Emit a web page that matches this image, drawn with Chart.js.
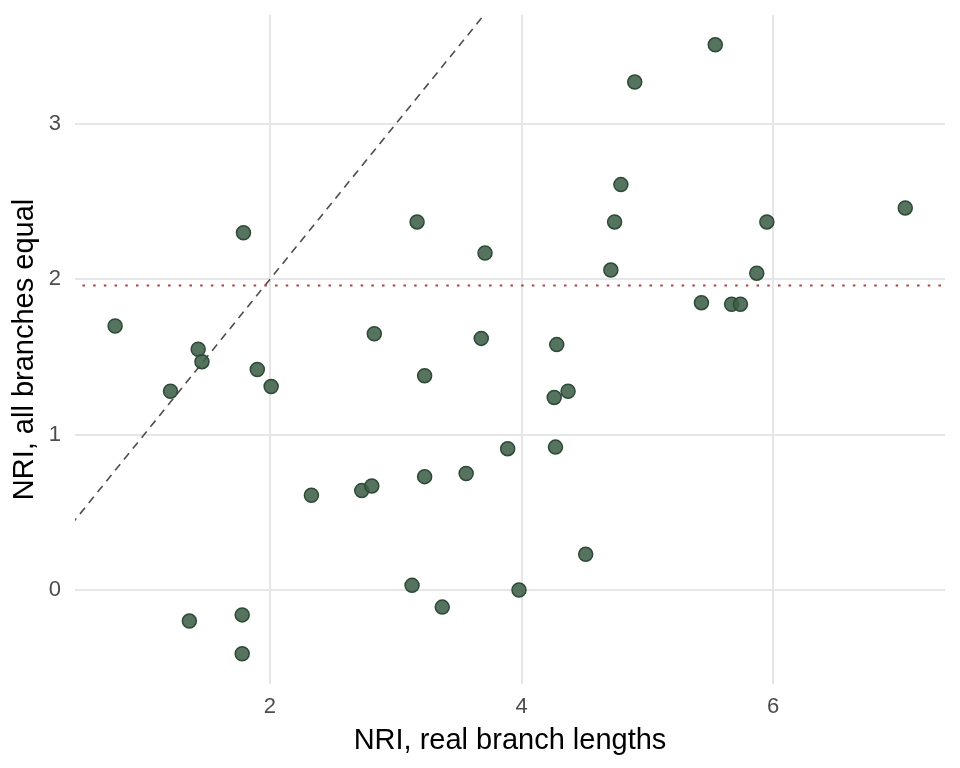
<!DOCTYPE html>
<html>
<head>
<meta charset="utf-8">
<script src="https://cdn.jsdelivr.net/npm/chart.js@4"></script>
<style>
  html, body { margin: 0; padding: 0; background: #fff; }
  #wrap { width: 960px; height: 768px; }
</style>
</head>
<body>
<div id="wrap"><canvas id="myChart" width="960" height="768"></canvas></div>
<script>
// NRI values
var nriReal = [0.77, 1.21, 1.43, 1.46, 1.36, 1.79, 1.78, 1.78, 1.90, 2.01,
               2.33, 2.73, 2.81, 2.83, 3.17, 3.13, 3.23, 3.23, 3.37, 3.56,
               3.68, 3.71, 3.89, 3.98, 4.28, 4.26, 4.37, 4.27, 4.51, 4.71,
               4.74, 4.79, 4.90, 5.43, 5.54, 5.67, 5.74, 5.87, 5.95, 7.05];
var nriEqual = [1.70, 1.28, 1.55, 1.47, -0.20, 2.30, -0.16, -0.41, 1.42, 1.31,
                0.61, 0.64, 0.67, 1.65, 2.37, 0.03, 1.38, 0.73, -0.11, 0.75,
                1.62, 2.17, 0.91, 0.00, 1.58, 1.24, 1.28, 0.92, 0.23, 2.06,
                2.37, 2.61, 3.27, 1.85, 3.51, 1.84, 1.84, 2.04, 2.37, 2.46];

var xTicks = [2, 4, 6];
var yTicks = [0, 1, 2, 3];
var identityLine = [0, 4];   // y = x
var cutoff = 1.96;           // dotted horizontal line

var points = nriReal.map(function (x, i) { return { x: x, y: nriEqual[i] }; });

var ctx = document.getElementById('myChart').getContext('2d');
var chart = new Chart(ctx, {
    type: 'scatter',
    data: {
        datasets: [
            {
                data: points,
                backgroundColor: 'rgba(62,96,72,0.88)',
                borderColor: '#2c4a35',
                borderWidth: 1.5,
                pointRadius: 7,
                order: 0
            },
            {
                data: identityLine.map(function (v) { return { x: v, y: v }; }),
                showLine: true,
                borderColor: '#4d4d4d',
                borderWidth: 1.6,
                borderDash: [8, 6],
                pointRadius: 0,
                order: 2
            },
            {
                data: [{ x: 0, y: cutoff }, { x: 8, y: cutoff }],
                showLine: true,
                borderColor: '#b0403c',
                borderWidth: 2,
                borderDash: [2.5, 8.2],
                pointRadius: 0,
                order: 1
            }
        ]
    },
    options: {
        responsive: false,
        animation: false,
        layout: { padding: { top: 15, right: 15, left: 0, bottom: 0 } },
        plugins: { legend: { display: false }, tooltip: { enabled: false } },
        scales: {
            x: {
                type: 'linear',
                min: 0.451,
                max: 7.366,
                afterBuildTicks: function (s) { s.ticks = xTicks.map(function (v) { return { value: v }; }); },
                afterFit: function (s) { s.height = 84; s.paddingLeft = 0; s.paddingRight = 0; },
                grid: { color: '#e6e6e6', lineWidth: 2, drawTicks: false },
                border: { display: false },
                ticks: { color: '#4d4d4d', font: { family: 'Liberation Sans', size: 22 }, padding: 10 },
                title: {
                    display: true,
                    text: 'NRI, real branch lengths',
                    color: '#000',
                    font: { family: 'Liberation Sans', size: 29 },
                    padding: { top: 0, bottom: 10 }
                }
            },
            y: {
                type: 'linear',
                min: -0.605,
                max: 3.702,
                afterBuildTicks: function (s) { s.ticks = yTicks.map(function (v) { return { value: v }; }); },
                afterFit: function (s) { s.width = 75; s.paddingTop = 0; s.paddingBottom = 0; },
                grid: { color: '#e6e6e6', lineWidth: 2, drawTicks: false },
                border: { display: false },
                ticks: { color: '#4d4d4d', font: { family: 'Liberation Sans', size: 22 }, padding: 14 },
                title: {
                    display: true,
                    text: 'NRI, all branches equal',
                    color: '#000',
                    font: { family: 'Liberation Sans', size: 29 },
                    padding: { top: 8, bottom: 0 }
                }
            }
        }
    }
});
</script>
</body>
</html>
